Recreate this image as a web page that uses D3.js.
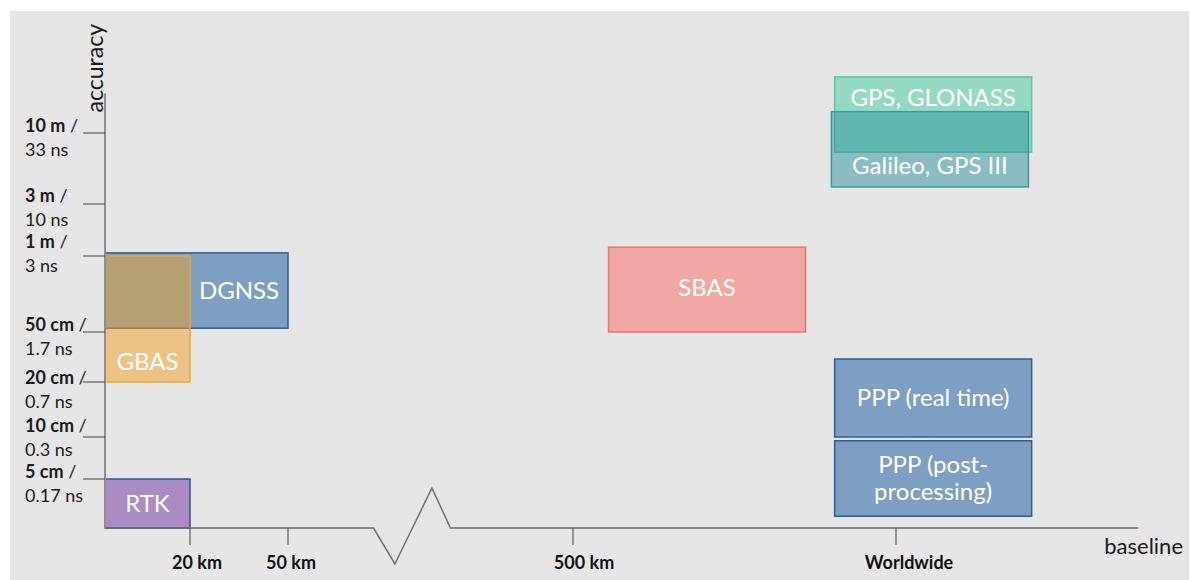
<!DOCTYPE html>
<html>
<head>
<meta charset="utf-8">
<script src="https://cdn.jsdelivr.net/npm/d3@7"></script>
<style>
  body { margin: 0; background: #fff; }
  text { font-family: Lato, "Open Sans", sans-serif; }
</style>
</head>
<body>
<div id="chart"></div>
<script>
// accuracy levels on the vertical axis (0 = 10 m ... 6 = 5 cm, 7 = baseline axis)
var accuracyLabels = ["10 m", "3 m", "1 m", "50 cm", "20 cm", "10 cm", "5 cm"];
var timeLabels = ["33 ns", "10 ns", "3 ns", "1.7 ns", "0.7 ns", "0.3 ns", "0.17 ns"];

// baseline steps on the horizontal axis (0 = origin, 1 = 20 km ... 4 = worldwide)
var baselineLabels = ["20 km", "50 km", "500 km", "Worldwide"];

// the systems, in drawing order
var systems = ["GPS, GLONASS", "Galileo, GPS III", "DGNSS", "GBAS", "SBAS",
  "PPP (real time)", "PPP (post-processing)", "RTK"];
var baselineFrom = [3.81, 3.80, 0, 0, 3.11, 3.81, 3.81, 0];
var baselineTo   = [4.42, 4.41, 2, 1, 3.72, 4.42, 4.42, 1];
var accuracyFrom = [-0.79, -0.30, 1.94, 2, 1.83, 3.54, 5.09, 6];
var accuracyTo   = [0.27, 0.76, 2.95, 4, 3.0, 5.0, 6.76, 7];
// where each name sits, in the same axis units
var labelBaseline = [4.115, 4.105, 1.5, 0.5, 3.415, 4.115, 4.115, 0.5];
var labelAccuracy = [-0.49, 0.46, 2.46, 3.6, 2.42, 4.29, 5.98, 6.5];

var colors = ["#42ce9e", "#29939b", "#2e6aa8", "#f29f21", "#fb6a5e", "#2e6aa8", "#2e6aa8", "#7030a0"];
var strokes = ["#5cc7a0", "#3a9a9e", "#2e5d9a", "#e9a53a", "#e0786c", "#2e5d9a", "#2e5d9a", "#2f5597"];
var opacities = [0.5, 0.49, 0.58, 0.49, 0.5, 0.58, 0.58, 0.5];

var W = 1190, H = 580;

var svg = d3.select("#chart")
  .append("svg")
  .attr("width", W)
  .attr("height", H);

svg.append("rect")
  .attr("x", 10).attr("y", 11)
  .attr("width", 1179).attr("height", H - 11)
  .attr("fill", "#e6e6e6");

// piecewise scales: the picture spaces its steps unevenly
var x = d3.scaleLinear()
  .domain([0, 1, 2, 3, 4])
  .range([105, 190, 288, 573, 896]);

var y = d3.scaleLinear()
  .domain([0, 1, 2, 3, 4, 5, 6, 7])
  .range([133, 204, 256, 332, 382, 437, 479, 528]);

// boxes
svg.selectAll(".box")
  .data(systems)
  .enter()
  .append("rect")
  .attr("class", "box")
  .attr("x", function (d, i) { return x(baselineFrom[i]); })
  .attr("y", function (d, i) { return y(accuracyFrom[i]); })
  .attr("width", function (d, i) { return x(baselineTo[i]) - x(baselineFrom[i]); })
  .attr("height", function (d, i) { return y(accuracyTo[i]) - y(accuracyFrom[i]); })
  .attr("fill", function (d, i) { return colors[i]; })
  .attr("fill-opacity", function (d, i) { return opacities[i]; })
  .attr("stroke", function (d, i) { return strokes[i]; })
  .attr("stroke-width", 1.5);

// box names (the long PPP one wraps like in the slide)
svg.selectAll(".name")
  .data(systems)
  .enter()
  .append("text")
  .attr("class", "name")
  .attr("text-anchor", "middle")
  .attr("fill", "#fff")
  .style("font-size", "24px")
  .each(function (d, i) {
    var lines = d == "PPP (post-processing)" ? ["PPP (post-", "processing)"] : [d];
    var t = d3.select(this);
    lines.forEach(function (s, k) {
      t.append("tspan")
        .attr("x", x(labelBaseline[i]))
        .attr("y", y(labelAccuracy[i]) + 8 + (k - (lines.length - 1) / 2) * 27)
        .text(s);
    });
  });

// y axis
svg.append("line")
  .attr("x1", x(0)).attr("x2", x(0))
  .attr("y1", y(-0.56)).attr("y2", y(7))
  .attr("stroke", "#8f8f8f")
  .attr("stroke-width", 2);

svg.append("text")
  .attr("transform", "translate(" + (x(0) - 2) + "," + y(-0.29) + ") rotate(-90)")
  .attr("text-anchor", "start")
  .style("font-size", "23px")
  .attr("fill", "#1a1a1a")
  .text("accuracy");

// the slide nudges some of the two-line labels off their tick
var labelShift = [0, -1, -7, 0, 3, -4, 0];

var yTicks = svg.selectAll(".ytick")
  .data(accuracyLabels)
  .enter()
  .append("g")
  .attr("class", "ytick")
  .attr("transform", function (d, i) { return "translate(0," + y(i) + ")"; });

yTicks.append("line")
  .attr("x1", x(0) - 22).attr("x2", x(0))
  .attr("stroke", "#404040")
  .attr("stroke-width", 1);

var yLabel = yTicks.append("text")
  .attr("x", 25)
  .attr("y", function (d, i) { return labelShift[i] - 1; })
  .style("font-size", "18px")
  .attr("fill", "#1a1a1a");
yLabel.append("tspan").style("font-weight", "bold").text(function (d) { return d; });
yLabel.append("tspan").text(" /");

yTicks.append("text")
  .attr("x", 25)
  .attr("y", function (d, i) { return labelShift[i] + 23; })
  .style("font-size", "18px")
  .attr("fill", "#1a1a1a")
  .text(function (d, i) { return timeLabels[i]; });

// x axis with its break between 50 km and 500 km
var y0 = y(7);
var axisPoints = [[0, 0], [2.30, 0], [2.375, 36], [2.505, -40], [2.57, 0], [4.75, 0]];
svg.append("path")
  .attr("d", d3.line()
    .x(function (d) { return x(d[0]); })
    .y(function (d) { return y0 + d[1]; })(axisPoints))
  .attr("fill", "none")
  .attr("stroke", "#6e6e6e")
  .attr("stroke-width", 1.5);

var xTicks = svg.selectAll(".xtick")
  .data(baselineLabels)
  .enter()
  .append("g")
  .attr("class", "xtick")
  .attr("transform", function (d, i) { return "translate(" + x(i + 1) + "," + y0 + ")"; });

xTicks.append("line")
  .attr("y1", 0).attr("y2", 17)
  .attr("stroke", "#404040");

xTicks.append("text")
  .attr("x", function (d, i) { return [7, 3, 11, 13][i]; })
  .attr("y", 41)
  .attr("text-anchor", "middle")
  .style("font-size", "18px")
  .style("font-weight", "bold")
  .attr("fill", "#111")
  .text(function (d) { return d; });

svg.append("text")
  .attr("x", 1183)
  .attr("y", y0 + 26)
  .attr("text-anchor", "end")
  .style("font-size", "22px")
  .attr("fill", "#1a1a1a")
  .text("baseline");
</script>
</body>
</html>
